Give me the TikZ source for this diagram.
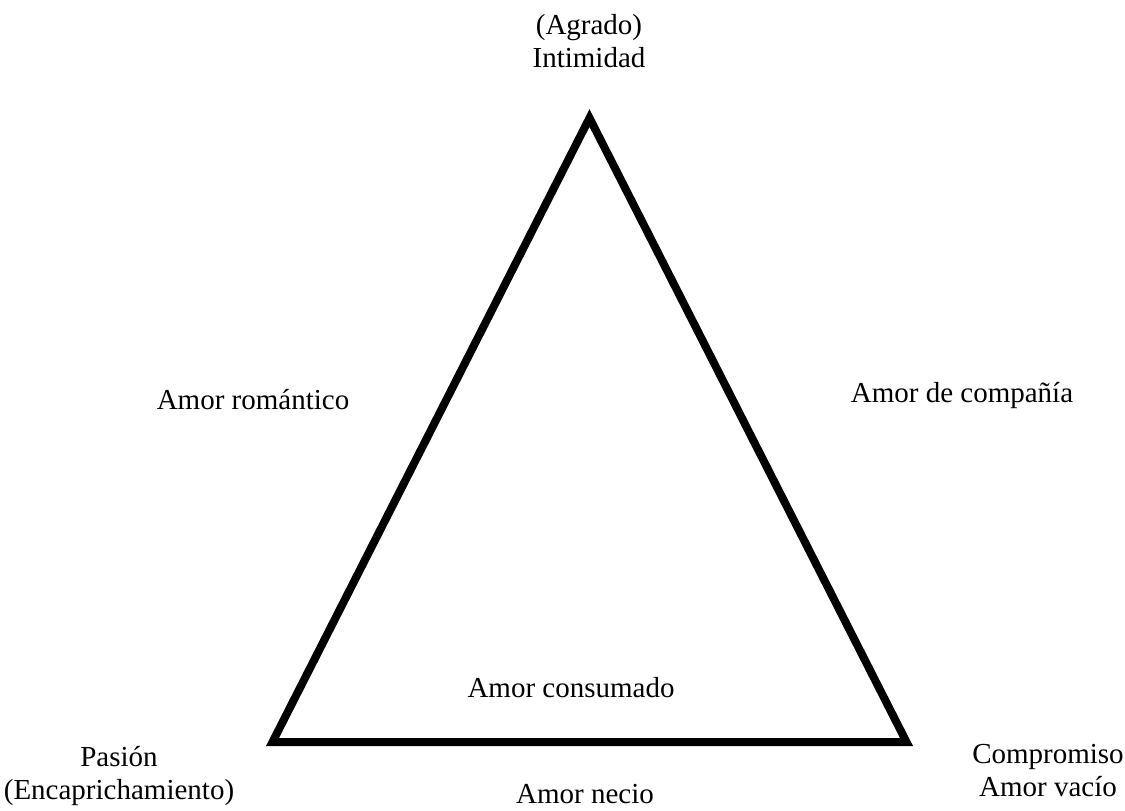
\documentclass[tikz,border=0pt]{standalone}
\usepackage{fontspec}
\setmainfont{Liberation Serif}
\begin{document}
\begin{tikzpicture}[x=1pt,y=-1pt,
  lbl/.style={inner sep=0pt,align=center,font=\fontsize{29}{33}\selectfont},
  side/.style={line width=8pt,line join=miter,black}]
\useasboundingbox (0,0) rectangle (1125,811);
\coordinate (A) at (589.5,118);
\coordinate (P) at (272.5,742);
\coordinate (C) at (906.5,742);
\draw[side] (A) -- (P) -- (C) -- cycle;
\node[lbl] (intim) at (589,41) {(Agrado)\\Intimidad};
\node[lbl] (rom) at (253,400) {Amor romántico};
\node[lbl] (comp) at (962,396) {Amor de compañía};
\node[lbl] (cons) at (571,688) {Amor consumado};
\node[lbl] (pas) at (119,776) {Pasión\\(Encaprichamiento)};
\node[lbl] (compr) at (1048,771) {Compromiso\\Amor vacío};
\node[lbl] (necio) at (585,794) {Amor necio};
\end{tikzpicture}
\end{document}
